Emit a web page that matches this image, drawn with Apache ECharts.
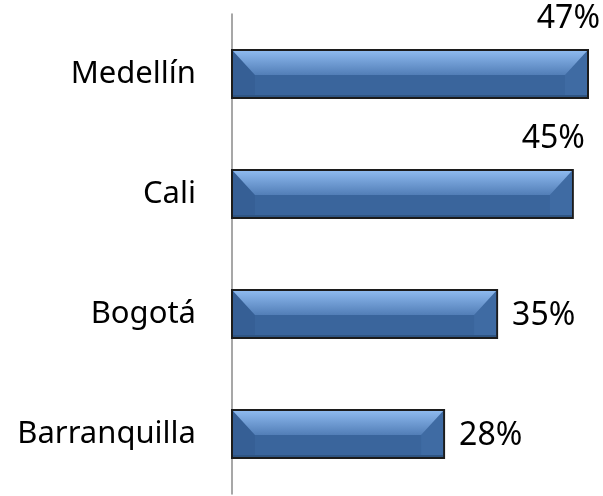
<!DOCTYPE html>
<html>
<head>
<meta charset="utf-8">
<script src="https://cdn.jsdelivr.net/npm/echarts@6/dist/echarts.min.js"></script>
<style>
  html, body { margin: 0; padding: 0; background: #fff; }
  #main { width: 603px; height: 496px; }
</style>
</head>
<body>
<div id="main"></div>
<script>
var cities = ['Medellín', 'Cali', 'Bogotá', 'Barranquilla'];
var shares = [47, 45, 35, 28];

var FONT = '"Noto Sans", "Open Sans", sans-serif';

// bevelled bar, roughly like the office "bevel" shape
function renderBar(params, api) {
    var idx = api.value(0);
    var val = api.value(1);
    var start = api.coord([0, idx]);
    var end = api.coord([val, idx]);
    var h = 48;
    var x = start[0], y = start[1] - h / 2;
    var w = end[0] - start[0];
    var b = Math.min(23, w / 2), bt = 25;
    var label = val + '%';
    var roomRight = params.coordSys.x + params.coordSys.width - end[0];
    var above = roomRight < 70;
    return {
        type: 'group',
        children: [
            { type: 'rect', shape: { x: x, y: y, width: w, height: h },
              style: { fill: '#3a659c', stroke: '#1c1c1c', lineWidth: 2 } },
            { type: 'polygon', shape: { points: [[x + 1, y + 1], [x + b, y + bt], [x + b, y + h - 2], [x + 1, y + h - 1]] },
              style: { fill: '#365f95' } },
            { type: 'polygon', shape: { points: [[x + w - 1, y + 1], [x + w - b, y + bt], [x + w - b, y + h - 2], [x + w - 1, y + h - 1]] },
              style: { fill: '#3f6ba3' } },
            { type: 'polygon', shape: { points: [[x + 1, y + 1], [x + w - 1, y + 1], [x + w - b, y + bt], [x + b, y + bt]] },
              style: { fill: new echarts.graphic.LinearGradient(0, 0, 0, 1, [
                  { offset: 0, color: '#8db9ee' },
                  { offset: 1, color: '#527eb7' }
              ]) } },
            { type: 'rect', shape: { x: x + 1, y: y + h - 3, width: w - 2, height: 2 },
              style: { fill: '#2f5583' } },
            { type: 'text',
              style: above ? {
                  text: label, x: end[0] + 12, y: y - 31, align: 'right', verticalAlign: 'middle',
                  fontSize: 32, fontFamily: FONT, fill: '#000'
              } : {
                  text: label, x: end[0] + 15, y: start[1] + 2, align: 'left', verticalAlign: 'middle',
                  fontSize: 32, fontFamily: FONT, fill: '#000'
              } }
        ]
    };
}

var chart = echarts.init(document.getElementById('main'));
chart.setOption({
    animation: false,
    grid: { left: 232, right: 15, top: 14, bottom: 2 },
    xAxis: {
        type: 'value', min: 0, max: 47,
        show: false
    },
    yAxis: {
        type: 'category',
        data: cities,
        inverse: true,
        axisLine: { show: true, lineStyle: { color: '#8a8a8a', width: 1.5 } },
        axisTick: { show: false },
        axisLabel: { fontSize: 31, fontFamily: FONT, color: '#000', margin: 36 }
    },
    series: [{
        type: 'custom',
        renderItem: renderBar,
        encode: { x: 1, y: 0 },
        data: shares.map(function (v, i) { return [i, v]; })
    }]
});
</script>
</body>
</html>
